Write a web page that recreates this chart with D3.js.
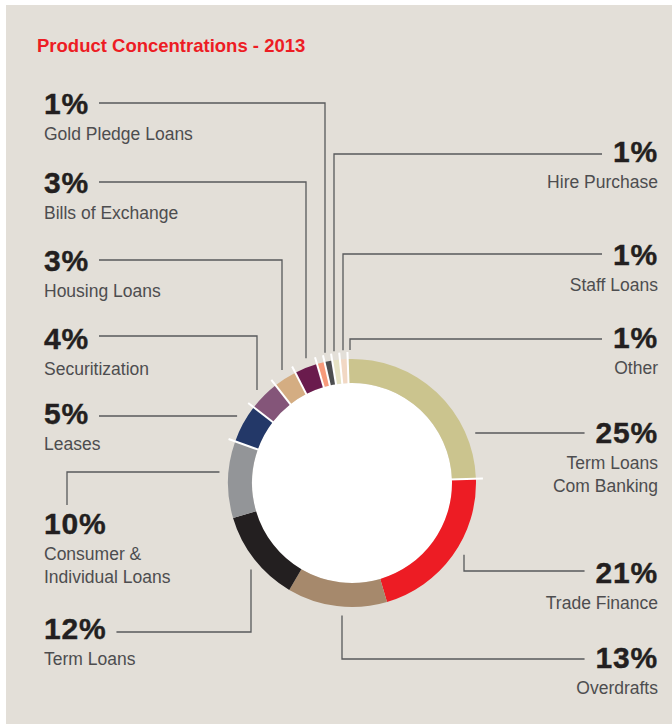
<!DOCTYPE html>
<html>
<head>
<meta charset="utf-8">
<script src="https://cdn.jsdelivr.net/npm/d3@7"></script>
<style>
  html, body { margin: 0; padding: 0; background: #ffffff; }
  svg { display: block; }
</style>
</head>
<body>
<svg id="chart" width="672" height="724"></svg>
<script>
// Product mix, share of total (%), clockwise from 12 o'clock
const categories = [
  "Term Loans Com Banking", "Trade Finance", "Overdrafts", "Term Loans",
  "Consumer & Individual Loans", "Leases", "Securitization", "Housing Loans",
  "Bills of Exchange", "Gold Pledge Loans", "Hire Purchase", "Staff Loans", "Other"
];
const values = [25, 21, 13, 12, 10, 5, 4, 3, 3, 1, 1, 1, 1];
const valueLabels = ["25%", "21%", "13%", "12%", "10%", "5%", "4%", "3%", "3%", "1%", "1%", "1%", "1%"];
const nameLines = [
  ["Term Loans", "Com Banking"], ["Trade Finance"], ["Overdrafts"], ["Term Loans"],
  ["Consumer &", "Individual Loans"], ["Leases"], ["Securitization"], ["Housing Loans"],
  ["Bills of Exchange"], ["Gold Pledge Loans"], ["Hire Purchase"], ["Staff Loans"], ["Other"]
];
const sliceColors = [
  "#cbc48e", "#ed1c24", "#a6896c", "#231f20", "#939598", "#233868", "#845579",
  "#d4ad82", "#6a1b4d", "#f79a7a", "#4d4d4f", "#e6e2c3", "#f2d8c4"
];
// boundaries (by the slice that ends there) that are drawn without a white divider
const noDividerAfter = new Set(["Trade Finance", "Overdrafts", "Term Loans"]);

// Label placement: side, baseline of the percentage, and leader routing
//  kind "h"  : straight horizontal leader at lineY to the ring
//  kind "hv" : horizontal at lineY to elbowX, then vertical to the ring
//  kind "rv" : from the ring horizontally at lineY to elbowX, then down to the label
const layout = [
  { side: "right", y: 443, kind: "h",  lineY: 433 },
  { side: "right", y: 583, kind: "hv", lineY: 571, elbowX: 464 },
  { side: "right", y: 668, kind: "hv", lineY: 659, elbowX: 342 },
  { side: "left",  y: 639, kind: "hv", lineY: 632, elbowX: 251 },
  { side: "left",  y: 534, kind: "rv", lineY: 472, elbowX: 67 },
  { side: "left",  y: 424, kind: "h",  lineY: 416 },
  { side: "left",  y: 349, kind: "hv", lineY: 336, elbowX: 257 },
  { side: "left",  y: 271, kind: "hv", lineY: 260, elbowX: 282 },
  { side: "left",  y: 193, kind: "hv", lineY: 182, elbowX: 306 },
  { side: "left",  y: 114, kind: "hv", lineY: 103, elbowX: 325 },
  { side: "right", y: 162, kind: "hv", lineY: 154, elbowX: 334 },
  { side: "right", y: 265, kind: "hv", lineY: 254, elbowX: 343 },
  { side: "right", y: 348, kind: "hv", lineY: 339, elbowX: 350 }
];

const W = 672, H = 724;
const cx = 352, cy = 483;
const rOuter = 124, rInner = 100, leaderGap = 9;
const leftX = 44, rightX = 658;
const rotation = -2 * Math.PI / 180;

const svg = d3.select("#chart");
const FONT = "'Liberation Sans', Arial, Helvetica, sans-serif";

// panel
svg.append("rect").attr("x", 6).attr("y", 5).attr("width", W - 6).attr("height", H - 5)
  .attr("fill", "#e3dfd8");

svg.append("text")
  .attr("x", 37).attr("y", 52)
  .attr("font-family", FONT).attr("font-weight", 700).attr("font-size", 18.5)
  .attr("fill", "#ed1c24")
  .text("Product Concentrations - 2013");

const data = categories.map((c, i) => ({ name: c, value: values[i], color: sliceColors[i], i }));

const pie = d3.pie().value(d => d.value).sort(null)
  .startAngle(rotation).endAngle(rotation + 2 * Math.PI);
const arcs = pie(data);
const arc = d3.arc().innerRadius(rInner).outerRadius(rOuter);

const g = svg.append("g").attr("transform", `translate(${cx},${cy})`);
g.append("circle").attr("r", rInner).attr("fill", "#ffffff");
g.selectAll("path.slice").data(arcs).join("path")
  .attr("class", "slice")
  .attr("d", arc)
  .attr("fill", d => d.data.color);

// white dividers poking out past the ring
const dividers = arcs.filter(a => !noDividerAfter.has(a.data.name)).map(a => a.endAngle);
g.selectAll("line.div").data(dividers).join("line")
  .attr("class", "div")
  .attr("x1", a => (rInner - 2) * Math.sin(a)).attr("y1", a => -(rInner - 2) * Math.cos(a))
  .attr("x2", a => (rOuter + 7) * Math.sin(a)).attr("y2", a => -(rOuter + 7) * Math.cos(a))
  .attr("stroke", "#ffffff").attr("stroke-width", 2);

// labels and leaders
const R = rOuter + leaderGap;
const ringYAt = x => cy - Math.sqrt(R * R - (x - cx) * (x - cx));
const ringYBelow = x => cy + Math.sqrt(R * R - (x - cx) * (x - cx));
const ringXAt = (y, side) => cx + (side === "left" ? -1 : 1) * Math.sqrt(R * R - (y - cy) * (y - cy));

const lab = svg.append("g");
data.forEach((d, i) => {
  const L = layout[i];
  const anchor = L.side === "left" ? "start" : "end";
  const x = L.side === "left" ? leftX : rightX;
  const pct = lab.append("text")
    .attr("x", x).attr("y", L.y)
    .attr("text-anchor", anchor)
    .attr("font-family", FONT).attr("font-weight", 700).attr("font-size", 30)
    .attr("letter-spacing", 0.8)
    .attr("fill", "#231f20")
    .attr("stroke", "#231f20").attr("stroke-width", 0.4)
    .text(valueLabels[i]);
  nameLines[i].forEach((t, k) => {
    lab.append("text")
      .attr("x", x).attr("y", L.y + 26 + k * 22.5)
      .attr("text-anchor", anchor)
      .attr("font-family", FONT).attr("font-size", 17.5)
      .attr("fill", "#4d4d4f")
      .text(t);
  });
  const bb = pct.node().getBBox();
  const textEdge = L.side === "left" ? bb.x + bb.width + 10 : bb.x - 11;
  const below = L.y > cy + 40;
  let pts;
  if (L.kind === "h") {
    pts = [[textEdge, L.lineY], [ringXAt(L.lineY, L.side), L.lineY]];
  } else if (L.kind === "hv") {
    const ry = below ? ringYBelow(L.elbowX) : ringYAt(L.elbowX);
    pts = [[textEdge, L.lineY], [L.elbowX, L.lineY], [L.elbowX, ry]];
  } else {
    pts = [[ringXAt(L.lineY, L.side), L.lineY], [L.elbowX, L.lineY], [L.elbowX, L.y - 29]];
  }
  lab.append("path")
    .attr("d", d3.line()(pts))
    .attr("fill", "none")
    .attr("stroke", "#58595b").attr("stroke-width", 1.3);
});
</script>
</body>
</html>
